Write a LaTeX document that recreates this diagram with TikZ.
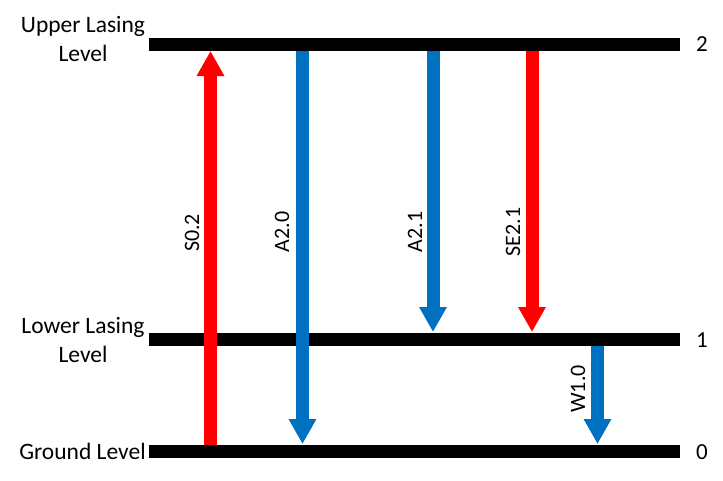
\documentclass[tikz,border=0pt]{standalone}
\usepackage{fontspec}
\setmainfont{Carlito}
\usetikzlibrary{arrows.meta}
\definecolor{lred}{RGB}{255,0,0}
\definecolor{lblue}{RGB}{0,112,192}
\tikzset{
  level/.style={line width=13pt,black},
  trans/.style={line width=13pt,-{Triangle[width=26pt,length=25pt]}},
  lbl/.style={font=\fontsize{23.5}{29}\selectfont,align=center,inner sep=0pt},
  nlbl/.style={font=\fontsize{23}{29}\selectfont,inner sep=0pt},
  rlbl/.style={font=\fontsize{22}{29}\selectfont,inner sep=0pt,rotate=90},
}
\begin{document}
\begin{tikzpicture}[x=1pt,y=-1pt]
\useasboundingbox (0,0) rectangle (723,480);
% levels
\coordinate (u1) at (149,44.5); \coordinate (u2) at (680,44.5);
\coordinate (l1) at (149,339.5); \coordinate (l2) at (680,339.5);
\coordinate (g1) at (149,451); \coordinate (g2) at (680,451);
\draw[level] (u1) -- (u2);
\draw[level] (l1) -- (l2);
\draw[level] (g1) -- (g2);
% arrow end points
\coordinate (s0b) at (210.5,445); \coordinate (s0t) at (210.5,51);
\coordinate (a20t) at (302.5,51); \coordinate (a20b) at (302.5,444);
\coordinate (a21t) at (433,51); \coordinate (a21b) at (433,332);
\coordinate (se21t) at (532,51); \coordinate (se21b) at (532,332);
\coordinate (w10t) at (597.5,346); \coordinate (w10b) at (597.5,444);
\draw[trans,lred] (s0b) -- (s0t);
\draw[trans,lblue] (a20t) -- (a20b);
\draw[trans,lblue] (a21t) -- (a21b);
\draw[trans,lred] (se21t) -- (se21b);
\draw[trans,lblue] (w10t) -- (w10b);
% labels
\node[lbl] (tu) at (83,38.5) {Upper Lasing\\Level};
\node[lbl] (tl) at (83,340) {Lower Lasing\\Level};
\node[lbl] (tg) at (82.5,451) {Ground Level};
\node[nlbl] (n2) at (702,44.5) {2};
\node[nlbl] (n1) at (702,340) {1};
\node[nlbl] (n0) at (702,452) {0};
\node[rlbl] (ls0) at (192,233) {S0.2};
\node[rlbl] (la20) at (282,232) {A2.0};
\node[rlbl] (la21) at (415,232) {A2.1};
\node[rlbl] (lse21) at (513,232) {SE2.1};
\node[rlbl] (lw10) at (578,389) {W1.0};
\end{tikzpicture}
\end{document}
